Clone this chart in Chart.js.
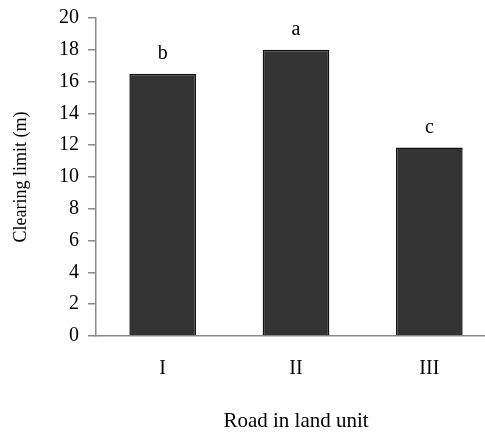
<!DOCTYPE html>
<html>
<head>
<meta charset="utf-8">
<script src="https://cdn.jsdelivr.net/npm/chart.js@4/dist/chart.umd.min.js"></script>
<style>
  html, body { margin: 0; padding: 0; background: #fff; overflow: hidden; }
  #wrap { position: relative; width: 496px; height: 434px; }
</style>
</head>
<body>
<div id="wrap"><canvas id="c" width="496" height="434"></canvas></div>
<script>
const categories = ['I', 'II', 'III'];
const clearingLimit = [16.5, 18.0, 11.85];
const significance = ['b', 'a', 'c'];
const yTicks = [0, 2, 4, 6, 8, 10, 12, 14, 16, 18, 20];

const FONT = '"Liberation Serif", "Times New Roman", serif';

const letterPlugin = {
  id: 'letters',
  afterDatasetsDraw(chart) {
    const ctx = chart.ctx;
    const meta = chart.getDatasetMeta(0);
    ctx.save();
    ctx.font = '20px ' + FONT;
    ctx.fillStyle = '#000';
    ctx.textAlign = 'center';
    ctx.textBaseline = 'alphabetic';
    meta.data.forEach((bar, i) => {
      ctx.fillText(significance[i], bar.x, bar.y - 15);
    });
    ctx.restore();
  }
};

new Chart(document.getElementById('c'), {
  type: 'bar',
  data: {
    labels: categories,
    datasets: [{
      data: clearingLimit,
      backgroundColor: '#333333',
      borderColor: '#111111',
      borderWidth: 1.5,
      barPercentage: 0.5,
      categoryPercentage: 1.0
    }]
  },
  options: {
    responsive: false,
    animation: false,
    devicePixelRatio: 1,
    layout: { padding: { top: 18, right: 0, left: 0, bottom: 0 } },
    plugins: { legend: { display: false }, tooltip: { enabled: false } },
    scales: {
      x: {
        offset: true,
        grid: { display: false, drawTicks: false },
        border: { display: true, color: '#8a8a8a', width: 1.5 },
        ticks: { color: '#000', font: { family: FONT, size: 20 }, padding: 21, maxRotation: 0 },
        title: { display: true, text: 'Road in land unit', color: '#000', font: { family: FONT, size: 21 }, padding: { top: 29, bottom: 0 } },
        afterFit(scale) { scale.height = 98; scale.paddingLeft = 0; scale.paddingRight = 0; }
      },
      y: {
        min: 0, max: 20,
        afterBuildTicks(scale) { scale.ticks = yTicks.map(v => ({ value: v })); },
        grid: { drawOnChartArea: false, drawTicks: true, tickLength: 8, color: '#8a8a8a', lineWidth: 1.5 },
        border: { display: true, color: '#8a8a8a', width: 1.5 },
        ticks: { color: '#000', font: { family: FONT, size: 20 }, padding: 9 },
        title: { display: true, text: 'Clearing limit (m)', color: '#000', font: { family: FONT, size: 18 }, padding: { top: 10, bottom: 0 } },
        afterFit(scale) { scale.width = 96; scale.paddingTop = 0; scale.paddingBottom = 0; }
      }
    }
  },
  plugins: [letterPlugin]
});
</script>
</body>
</html>
